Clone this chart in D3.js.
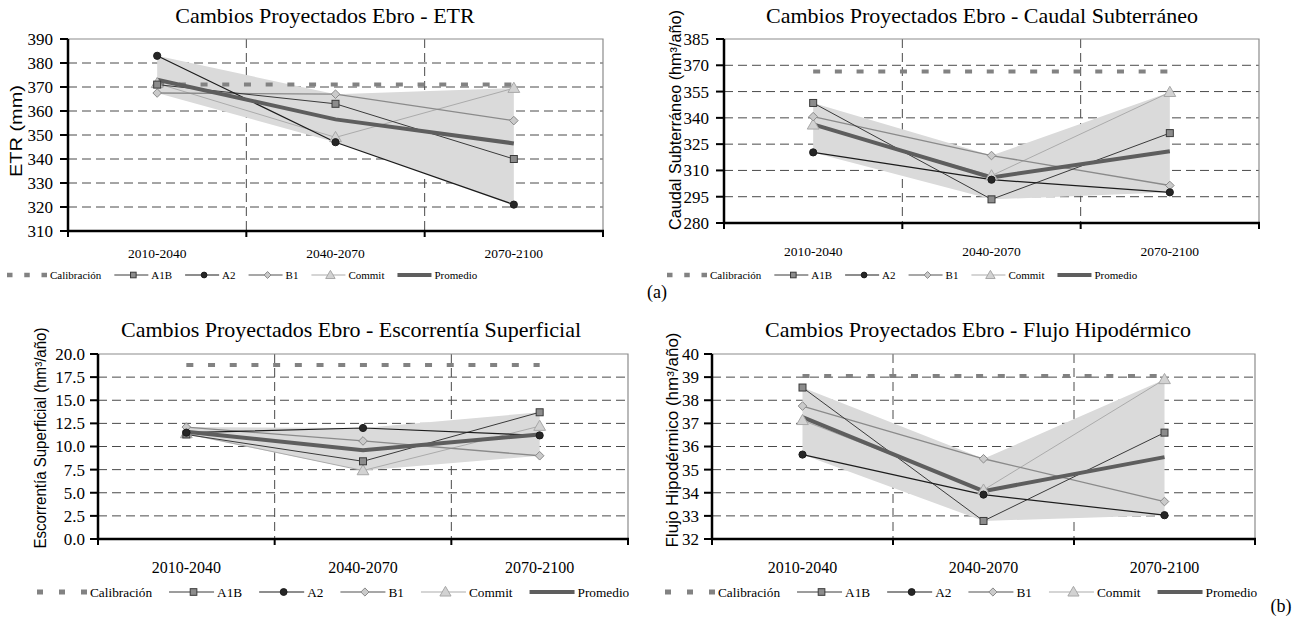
<!DOCTYPE html>
<html>
<head>
<meta charset="utf-8">
<script src="https://cdn.jsdelivr.net/npm/d3@7"></script>
<style>
  body { margin: 0; background: #fff; }
  svg { display: block; }
</style>
</head>
<body>
<svg id="chart" width="1314" height="621"></svg>
<script>
// periods on the x axis
var periods = ['2010-2040', '2040-2070', '2070-2100'];
var scenarios = ['A1B', 'A2', 'B1', 'Commit'];
var legendNames = ['Calibración', 'A1B', 'A2', 'B1', 'Commit', 'Promedio'];

// ETR (mm)
var etrCalib = 371;
var etrA1B = [371, 363, 340];
var etrA2 = [383, 347, 321];
var etrB1 = [367.5, 367, 356];
var etrCommit = [371.5, 349, 369.5];
var etrProm = [373, 356.5, 346.5];
var etrTicks = [310, 320, 330, 340, 350, 360, 370, 380, 390];

// Caudal subterraneo (hm3/año)
var cauCalib = 366.5;
var cauA1B = [348.5, 293.5, 331.3];
var cauA2 = [320.3, 304.7, 297.5];
var cauB1 = [340.7, 318.5, 301.4];
var cauCommit = [336, 307, 354.6];
var cauProm = [336.3, 306, 321];
var cauTicks = [280, 295, 310, 325, 340, 355, 370, 385];

// Escorrentia superficial (hm3/año)
var escCalib = 18.8;
var escA1B = [11.3, 8.4, 13.7];
var escA2 = [11.5, 12.0, 11.2];
var escB1 = [12.1, 10.6, 9.0];
var escCommit = [11.4, 7.4, 12.2];
var escProm = [11.6, 9.6, 11.3];
var escTicks = [0, 2.5, 5, 7.5, 10, 12.5, 15, 17.5, 20];

// Flujo hipodermico (hm3/año)
var fluCalib = 39.05;
var fluA1B = [38.55, 32.78, 36.6];
var fluA2 = [35.65, 33.92, 33.03];
var fluB1 = [37.75, 35.47, 33.62];
var fluCommit = [37.13, 34.12, 38.9];
var fluProm = [37.27, 34.07, 35.54];
var fluTicks = [32, 33, 34, 35, 36, 37, 38, 39, 40];

var SERIF = 'Liberation Serif';
var SANS = 'Liberation Sans';

var styles = {
  A1B:    { stroke: '#3a3a3a', w: 1,   marker: 'square',   fill: '#8c8c8c', ms: '#3a3a3a' },
  A2:     { stroke: '#1c1c1c', w: 1.2, marker: 'circle',   fill: '#262626', ms: '#1c1c1c' },
  B1:     { stroke: '#8a8a8a', w: 1.3, marker: 'diamond',  fill: '#cacaca', ms: '#8a8a8a' },
  Commit: { stroke: '#ababab', w: 1,   marker: 'triangle', fill: '#d2d2d2', ms: '#a8a8a8' }
};

var panels = [
  { title: 'Cambios Proyectados Ebro - ETR', ylabel: 'ETR (mm)',
    calib: etrCalib, data: { A1B: etrA1B, A2: etrA2, B1: etrB1, Commit: etrCommit }, prom: etrProm,
    ticks: etrTicks, fmt: d3.format('d'),
    l: 68, t: 39, r: 603, b: 231, titleX: 325, titleY: 23,
    catY: 258, catSize: 13.5, legX: 7, legY: 275, leg: 'small',
    ylabX: 16, ylabY: 131, ylabLen: 92, tickGap: 15 },
  { title: 'Cambios Proyectados Ebro - Caudal Subterráneo', ylabel: 'Caudal Subterráneo (hm³/año)',
    calib: cauCalib, data: { A1B: cauA1B, A2: cauA2, B1: cauB1, Commit: cauCommit }, prom: cauProm,
    ticks: cauTicks, fmt: d3.format('d'),
    l: 724, t: 39, r: 1259, b: 223, titleX: 982, titleY: 23,
    catY: 256, catSize: 13.5, legX: 667, legY: 275, leg: 'small',
    ylabX: 675, ylabY: 120, ylabLen: 220, tickGap: 15 },
  { title: 'Cambios Proyectados Ebro - Escorrentía Superficial', ylabel: 'Escorrentía Superficial (hm³/año)',
    calib: escCalib, data: { A1B: escA1B, A2: escA2, B1: escB1, Commit: escCommit }, prom: escProm,
    ticks: escTicks, fmt: d3.format('.1f'),
    l: 98, t: 354, r: 628, b: 539, titleX: 351, titleY: 337,
    catY: 573, catSize: 16, legX: 37, legY: 592, leg: 'big',
    ylabX: 40, ylabY: 438, ylabLen: 221, tickGap: 13 },
  { title: 'Cambios Proyectados Ebro - Flujo Hipodérmico', ylabel: 'Flujo Hipodérmico (hm³/año)',
    calib: fluCalib, data: { A1B: fluA1B, A2: fluA2, B1: fluB1, Commit: fluCommit }, prom: fluProm,
    ticks: fluTicks, fmt: d3.format('d'),
    l: 712, t: 354, r: 1255, b: 539, titleX: 978, titleY: 337,
    catY: 573, catSize: 16, legX: 665, legY: 592, leg: 'big',
    ylabX: 672, ylabY: 440, ylabLen: 215, tickGap: 13 }
];

var legendSizes = {
  small: { font: 11, cal: 40, sym: 34, gap: 13, tgap: 3, mark: 0.8, calW: 4.5 },
  big:   { font: 13.3, cal: 50, sym: 45, gap: 17, tgap: 3, mark: 0.95, calW: 5 }
};

var svg = d3.select('#chart');

function drawMarker(g, type, x, y, st, k) {
  k = k || 1;
  if (type === 'square') {
    var s = 7 * k;
    g.append('rect').attr('x', x - s / 2).attr('y', y - s / 2).attr('width', s).attr('height', s)
      .style('fill', st.fill).style('stroke', st.ms).style('stroke-width', 1);
  } else if (type === 'circle') {
    g.append('circle').attr('cx', x).attr('cy', y).attr('r', 3.6 * k)
      .style('fill', st.fill).style('stroke', st.ms).style('stroke-width', 1);
  } else if (type === 'diamond') {
    var r = 4.3 * k;
    g.append('path').attr('d', 'M' + x + ',' + (y - r) + 'L' + (x + r) + ',' + y + 'L' + x + ',' + (y + r) + 'L' + (x - r) + ',' + y + 'Z')
      .style('fill', st.fill).style('stroke', st.ms).style('stroke-width', 1);
  } else {
    g.append('path').attr('d', d3.symbol().type(d3.symbolTriangle).size(60 * k * k)())
      .attr('transform', 'translate(' + x + ',' + (y + 0.8) + ')')
      .style('fill', st.fill).style('stroke', st.ms).style('stroke-width', 1);
  }
}

panels.forEach(function (p) {
  var g = svg.append('g');
  var x = d3.scaleBand().domain(periods).range([p.l, p.r]);
  var y = d3.scaleLinear().domain(d3.extent(p.ticks)).range([p.b, p.t]);
  var cx = function (d) { return x(d) + x.bandwidth() / 2; };

  // horizontal grid
  g.selectAll('.hg').data(p.ticks.slice(1, -1)).enter().append('line')
    .attr('x1', p.l).attr('x2', p.r).attr('y1', function (d) { return y(d); }).attr('y2', function (d) { return y(d); })
    .style('stroke', '#4a4a4a').style('stroke-width', 1).style('stroke-dasharray', '9,5');
  // vertical grid at category boundaries
  g.selectAll('.vg').data(periods.slice(1)).enter().append('line')
    .attr('x1', function (d) { return x(d); }).attr('x2', function (d) { return x(d); })
    .attr('y1', p.t).attr('y2', p.b)
    .style('stroke', '#4a4a4a').style('stroke-width', 1).style('stroke-dasharray', '9,5');

  // plot border top / right
  g.append('path').attr('d', 'M' + p.l + ',' + p.t + 'H' + p.r + 'V' + p.b)
    .style('fill', 'none').style('stroke', '#8c8c8c').style('stroke-width', 1.2);

  // min-max envelope of the scenarios
  var env = periods.map(function (d, i) {
    var vals = scenarios.map(function (s) { return p.data[s][i]; });
    return { p: d, lo: d3.min(vals), hi: d3.max(vals) };
  });
  g.append('path').datum(env)
    .attr('d', d3.area().x(function (d) { return cx(d.p); }).y0(function (d) { return y(d.lo); }).y1(function (d) { return y(d.hi); }))
    .style('fill', '#dadada');

  // calibration
  g.append('line').attr('x1', cx(periods[0])).attr('x2', cx(periods[2]))
    .attr('y1', y(p.calib)).attr('y2', y(p.calib))
    .style('stroke', '#828282').style('stroke-width', 4).style('stroke-dasharray', '7,14.7');

  // scenario lines
  var line = d3.line().x(function (d, i) { return cx(periods[i]); }).y(function (d) { return y(d); });
  ['Commit', 'B1', 'A1B', 'A2'].forEach(function (s) {
    g.append('path').datum(p.data[s]).attr('d', line)
      .style('fill', 'none').style('stroke', styles[s].stroke).style('stroke-width', styles[s].w);
  });
  // promedio
  g.append('path').datum(p.prom).attr('d', line)
    .style('fill', 'none').style('stroke', '#5e5e5e').style('stroke-width', 4);
  // markers
  ['Commit', 'B1', 'A1B', 'A2'].forEach(function (s) {
    p.data[s].forEach(function (v, i) { drawMarker(g, styles[s].marker, cx(periods[i]), y(v), styles[s]); });
  });

  // axes
  g.append('line').attr('x1', p.l).attr('x2', p.l).attr('y1', p.t).attr('y2', p.b + 1)
    .style('stroke', '#000').style('stroke-width', 2.5);
  g.append('line').attr('x1', p.l - 1).attr('x2', p.r + 1).attr('y1', p.b).attr('y2', p.b)
    .style('stroke', '#000').style('stroke-width', 2.5);
  g.selectAll('.yt').data(p.ticks).enter().append('line')
    .attr('x1', p.l - 8).attr('x2', p.l).attr('y1', function (d) { return y(d); }).attr('y2', function (d) { return y(d); })
    .style('stroke', '#000').style('stroke-width', 2);
  g.selectAll('.xt').data(periods.concat(['end'])).enter().append('line')
    .attr('x1', function (d, i) { return p.l + i * x.bandwidth(); }).attr('x2', function (d, i) { return p.l + i * x.bandwidth(); })
    .attr('y1', p.b).attr('y2', p.b + 6)
    .style('stroke', '#000').style('stroke-width', 2);

  // tick labels
  g.selectAll('.yl').data(p.ticks).enter().append('text')
    .attr('font-family', SERIF).attr('font-size', 17)
    .attr('x', p.l - p.tickGap).attr('y', function (d) { return y(d); }).attr('dy', '0.35em')
    .attr('text-anchor', 'end')
    .text(function (d) { return p.fmt(d); });
  g.selectAll('.xl').data(periods).enter().append('text')
    .attr('font-family', SERIF).attr('font-size', p.catSize)
    .attr('x', cx).attr('y', p.catY).attr('text-anchor', 'middle')
    .text(function (d) { return d; });

  // title and y label
  g.append('text').attr('font-family', SERIF).attr('font-size', 22)
    .attr('x', p.titleX).attr('y', p.titleY).attr('text-anchor', 'middle')
    .text(p.title);
  g.append('text').attr('font-family', SANS).attr('font-size', 16)
    .attr('transform', 'translate(' + p.ylabX + ',' + p.ylabY + ') rotate(-90)')
    .attr('text-anchor', 'middle').attr('dy', '0.35em')
    .attr('textLength', p.ylabLen).attr('lengthAdjust', 'spacingAndGlyphs')
    .text(p.ylabel);

  // legend
  var L = legendSizes[p.leg];
  var lx = p.legX, ly = p.legY;
  legendNames.forEach(function (name) {
    var len = name === 'Calibración' ? L.cal : L.sym;
    if (name === 'Calibración') {
      g.append('line').attr('x1', lx).attr('x2', lx + len).attr('y1', ly).attr('y2', ly)
        .style('stroke', '#828282').style('stroke-width', L.calW)
        .style('stroke-dasharray', (L.calW + 1) + ',' + (len - 3 * (L.calW + 1)) / 2);
    } else if (name === 'Promedio') {
      g.append('line').attr('x1', lx).attr('x2', lx + len).attr('y1', ly).attr('y2', ly)
        .style('stroke', '#5e5e5e').style('stroke-width', 4);
    } else {
      var st = styles[name];
      g.append('line').attr('x1', lx).attr('x2', lx + len).attr('y1', ly).attr('y2', ly)
        .style('stroke', st.stroke).style('stroke-width', st.w);
      drawMarker(g, st.marker, lx + len / 2 + 2, ly, st, L.mark);
    }
    var t = g.append('text').attr('font-family', SERIF).attr('font-size', L.font)
      .attr('x', lx + len + L.tgap).attr('y', ly).attr('dy', '0.35em')
      .text(name);
    lx = lx + len + L.tgap + t.node().getComputedTextLength() + L.gap;
  });
});

svg.append('text').attr('font-family', SERIF).attr('font-size', 18)
  .attr('x', 657).attr('y', 298).attr('text-anchor', 'middle').text('(a)');
svg.append('text').attr('font-family', SERIF).attr('font-size', 18)
  .attr('x', 1281).attr('y', 612).attr('text-anchor', 'middle').text('(b)');
</script>
</body>
</html>
